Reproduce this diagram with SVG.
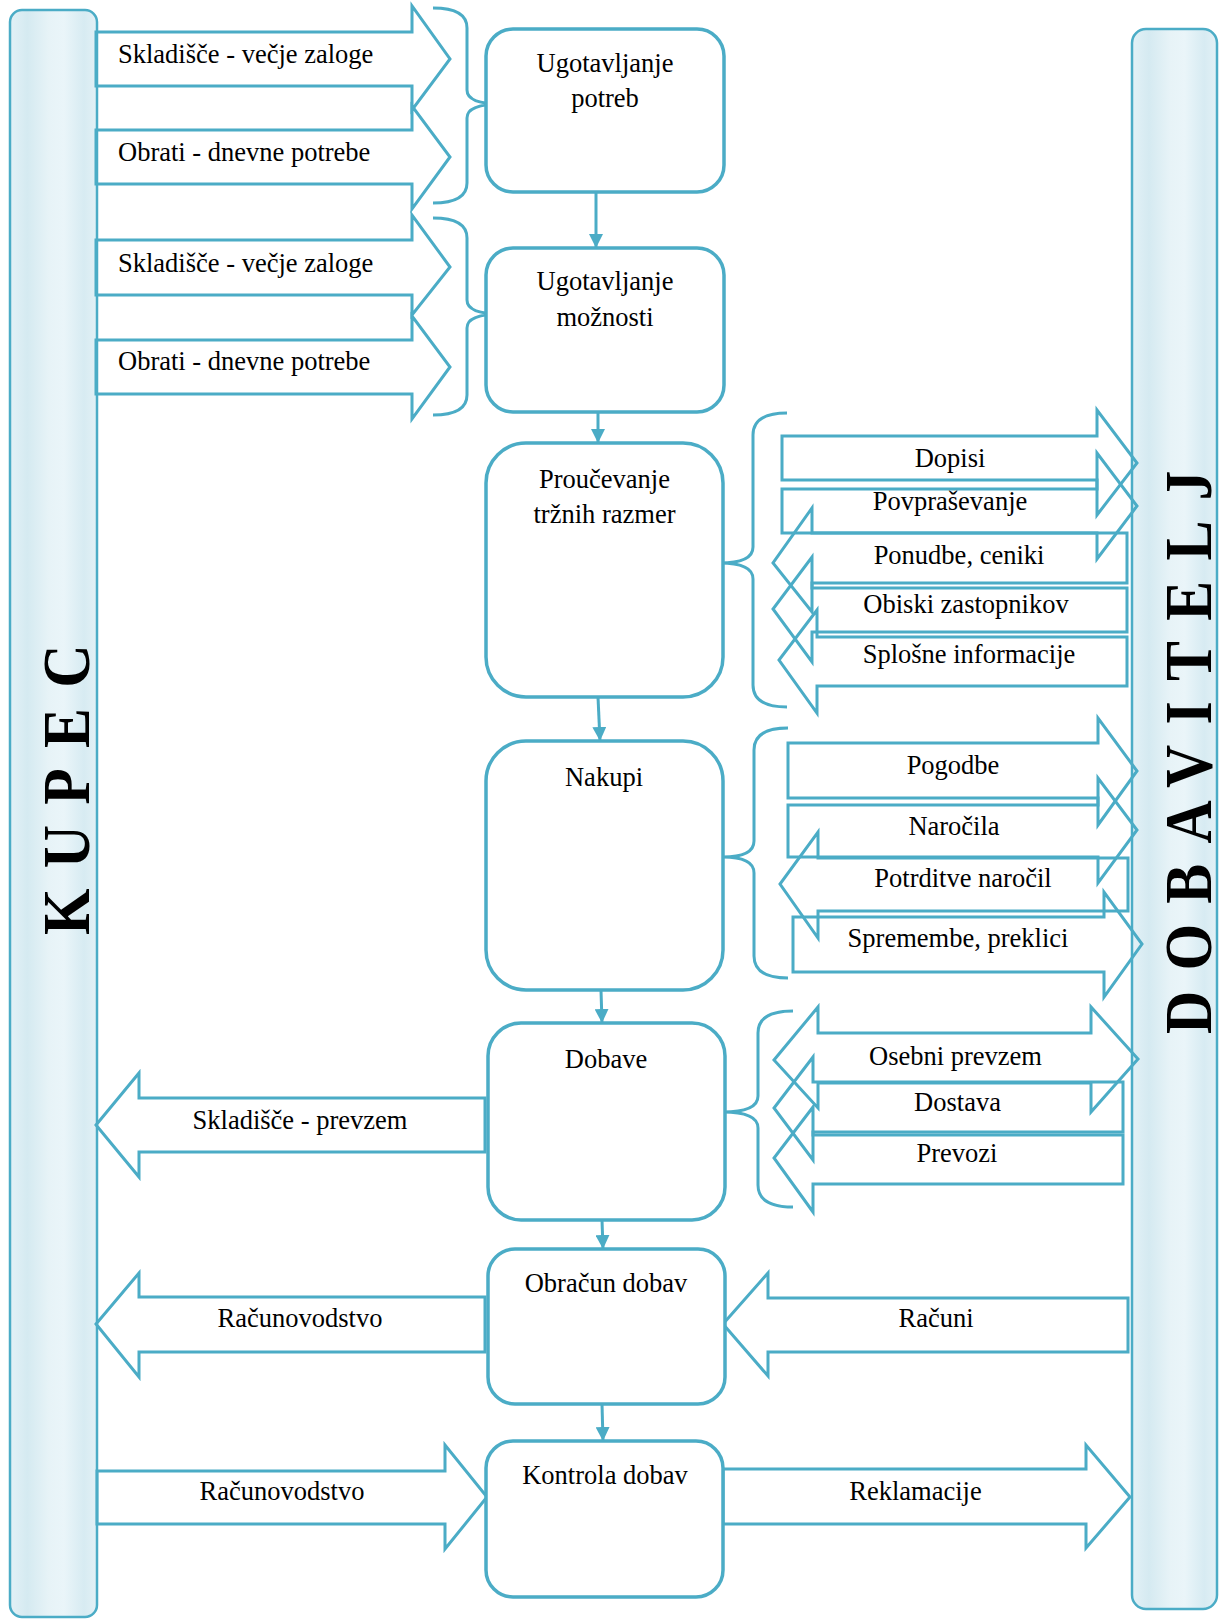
<svg xmlns="http://www.w3.org/2000/svg" width="1219" height="1621" viewBox="0 0 1219 1621">
<defs>
<linearGradient id="bar" x1="0" y1="0" x2="1" y2="0">
<stop offset="0" stop-color="#e3f1f6"/>
<stop offset="0.2" stop-color="#d5eaf1"/>
<stop offset="0.45" stop-color="#e7f3f7"/>
<stop offset="0.62" stop-color="#eaf5f9"/>
<stop offset="0.85" stop-color="#d7ebf2"/>
<stop offset="1" stop-color="#e3f1f6"/>
</linearGradient>
<marker id="ah" markerUnits="userSpaceOnUse" markerWidth="14" markerHeight="14" viewBox="0 0 14 14" refX="14" refY="7" orient="auto">
<path d="M0,0 L14,7 L0,14 Z" fill="#4bacc6"/>
</marker>
</defs>
<style>
.bar{fill:url(#bar);stroke:#4bacc6;stroke-width:2.5}
.box{fill:#fff;stroke:#4bacc6;stroke-width:3.5}
.ba{fill:none;stroke:#4bacc6;stroke-width:3;stroke-linejoin:miter}
.br{fill:none;stroke:#4bacc6;stroke-width:3}
.cn{fill:none;stroke:#4bacc6;stroke-width:3}
text{font-family:"Liberation Serif","Times New Roman",serif;font-size:26.5px;fill:#000}
.c{text-anchor:middle}
.big{font-weight:bold;font-size:68px;letter-spacing:23px}
</style>
<rect width="1219" height="1621" fill="#fff"/>

<g id="kupec">
<rect class="bar" x="10" y="10" width="87" height="1607" rx="12"/>
<text class="big" transform="translate(88.5,935) rotate(-90) scale(0.88,1)">KUPEC</text>
</g>
<g id="dobavitelj">
<rect class="bar" x="1132" y="29" width="85" height="1580" rx="14"/>
<text class="big" transform="translate(1211,1034) rotate(-90) scale(0.88,1)">DOBAVITELJ</text>
</g>

<g id="arrow-skladisce-1">
<polygon class="ba" points="96,32 412,32 412,6 450,59 412,110 412,86 96,86"/>
<text x="118" y="62.5">Skladišče - večje zaloge</text>
</g>
<g id="arrow-obrati-1">
<polygon class="ba" points="96,130 412,130 412,106 450,157 412,209 412,184 96,184"/>
<text x="118" y="161">Obrati - dnevne potrebe</text>
</g>
<g id="arrow-skladisce-2">
<polygon class="ba" points="96,240 412,240 412,215 450,267 412,315 412,295 96,295"/>
<text x="118" y="271.5">Skladišče - večje zaloge</text>
</g>
<g id="arrow-obrati-2">
<polygon class="ba" points="96,340 412,340 412,316 450,367 412,419 412,394 96,394"/>
<text x="118" y="370">Obrati - dnevne potrebe</text>
</g>

<g id="arrow-dopisi">
<polygon class="ba" points="782,436 1097,436 1097,410 1137,463 1097,515 1097,480 782,480"/>
<text class="c" x="950" y="467">Dopisi</text>
</g>
<g id="arrow-povprasevanje">
<polygon class="ba" points="782,489 1097,489 1097,453 1137,506 1097,559 1097,533 782,533"/>
<text class="c" x="950" y="510">Povpraševanje</text>
</g>
<g id="arrow-ponudbe">
<polygon class="ba" points="1127,533 812,533 812,508 773,563 812,612 812,583 1127,583"/>
<text class="c" x="959" y="564">Ponudbe, ceniki</text>
</g>
<g id="arrow-obiski">
<polygon class="ba" points="1127,588 812,588 812,557 773,609 812,662 812,632 1127,632"/>
<text class="c" x="966" y="613">Obiski zastopnikov</text>
</g>
<g id="arrow-splosne">
<polygon class="ba" points="1127,637 817,637 817,610 779,660 817,713 817,686 1127,686"/>
<text class="c" x="969" y="663">Splošne informacije</text>
</g>

<g id="arrow-pogodbe">
<polygon class="ba" points="788,743 1098,743 1098,718 1137,771 1098,825 1098,798 788,798"/>
<text class="c" x="953" y="774">Pogodbe</text>
</g>
<g id="arrow-narocila">
<polygon class="ba" points="788,805 1098,805 1098,778 1137,830 1098,883 1098,857 788,857"/>
<text class="c" x="954" y="835">Naročila</text>
</g>
<g id="arrow-potrditve">
<polygon class="ba" points="1128,858 818,858 818,832 780,884 818,938 818,911 1128,911"/>
<text class="c" x="963" y="887">Potrditve naročil</text>
</g>
<g id="arrow-spremembe">
<polygon class="ba" points="793,917 1104,917 1104,892 1142,944 1104,997 1104,972 793,972"/>
<text class="c" x="958" y="947">Spremembe, preklici</text>
</g>

<g id="arrow-osebni">
<polygon class="ba" points="818,1033 1091,1033 1091,1007 1138,1059 1091,1112 1091,1083 818,1083 818,1108 774,1060 818,1007"/>
<text class="c" x="955.5" y="1065">Osebni prevzem</text>
</g>
<g id="arrow-dostava">
<polygon class="ba" points="1123,1082 813,1082 813,1057 774,1108 813,1160 813,1132 1123,1132"/>
<text class="c" x="957.5" y="1111">Dostava</text>
</g>
<g id="arrow-prevozi">
<polygon class="ba" points="1123,1135 813,1135 813,1107 774,1158 813,1212 813,1184 1123,1184"/>
<text class="c" x="957" y="1162">Prevozi</text>
</g>

<g id="arrow-skladisce-prevzem">
<polygon class="ba" points="485,1098 139,1098 139,1073 96,1125 139,1177 139,1152 485,1152"/>
<text class="c" x="300" y="1129">Skladišče - prevzem</text>
</g>
<g id="arrow-racunovodstvo-1">
<polygon class="ba" points="485,1297 139,1297 139,1273 96,1324 139,1377 139,1352 485,1352"/>
<text class="c" x="300" y="1327">Računovodstvo</text>
</g>
<g id="arrow-racuni">
<polygon class="ba" points="1128,1298 768,1298 768,1273 723,1324 768,1376 768,1352 1128,1352"/>
<text class="c" x="936" y="1327">Računi</text>
</g>
<g id="arrow-racunovodstvo-2">
<polygon class="ba" points="97,1471 445,1471 445,1445 487,1497 445,1549 445,1524 97,1524"/>
<text class="c" x="282" y="1500">Računovodstvo</text>
</g>
<g id="arrow-reklamacije">
<polygon class="ba" points="723,1469 1086,1469 1086,1445 1130,1497 1086,1548 1086,1524 723,1524"/>
<text class="c" x="915.5" y="1500">Reklamacije</text>
</g>

<g id="braces">
<path class="br" d="M433,8 Q467,8 467,28 L467,90 Q467,104 501,104 Q467,104 467,118 L467,183 Q467,203 433,203"/>
<path class="br" d="M433,218 Q467,218 467,238 L467,300 Q467,314 501,314 Q467,314 467,328 L467,395 Q467,415 433,415"/>
<path class="br" d="M787,413 Q753,413 753,435 L753,547 Q753,563 720,563 Q753,563 753,579 L753,685 Q753,707 787,707"/>
<path class="br" d="M788,728 Q754,728 754,750 L754,841 Q754,857 723,857 Q754,857 754,873 L754,956 Q754,978 788,978"/>
<path class="br" d="M793,1011 Q758,1011 758,1033 L758,1096 Q758,1112 723,1112 Q758,1112 758,1128 L758,1185 Q758,1207 793,1207"/>
</g>

<g id="connectors">
<line class="cn" x1="596" y1="192" x2="596" y2="248" marker-end="url(#ah)"/>
<line class="cn" x1="598" y1="412" x2="598" y2="443" marker-end="url(#ah)"/>
<line class="cn" x1="598" y1="697" x2="600" y2="741" marker-end="url(#ah)"/>
<line class="cn" x1="601" y1="990" x2="602" y2="1023" marker-end="url(#ah)"/>
<line class="cn" x1="602" y1="1220" x2="603" y2="1249" marker-end="url(#ah)"/>
<line class="cn" x1="602" y1="1404" x2="603" y2="1441" marker-end="url(#ah)"/>
</g>

<g id="n1">
<rect class="box" x="486" y="29" width="238" height="163" rx="27"/>
<text class="c" x="605" y="72">Ugotavljanje</text>
<text class="c" x="605" y="107">potreb</text>
</g>
<g id="n2">
<rect class="box" x="486" y="248" width="238" height="164" rx="27"/>
<text class="c" x="605" y="290">Ugotavljanje</text>
<text class="c" x="605" y="326">možnosti</text>
</g>
<g id="n3">
<rect class="box" x="486" y="443" width="237" height="254" rx="40"/>
<text class="c" x="604.5" y="488">Proučevanje</text>
<text class="c" x="604.5" y="523">tržnih razmer</text>
</g>
<g id="n4">
<rect class="box" x="486" y="741" width="237" height="249" rx="40"/>
<text class="c" x="604" y="786">Nakupi</text>
</g>
<g id="n5">
<rect class="box" x="488" y="1023" width="237" height="197" rx="33"/>
<text class="c" x="606" y="1068">Dobave</text>
</g>
<g id="n6">
<rect class="box" x="488" y="1249" width="237" height="155" rx="27"/>
<text class="c" x="606" y="1292">Obračun dobav</text>
</g>
<g id="n7">
<rect class="box" x="486" y="1441" width="237" height="156" rx="27"/>
<text class="c" x="605" y="1484">Kontrola dobav</text>
</g>
</svg>
